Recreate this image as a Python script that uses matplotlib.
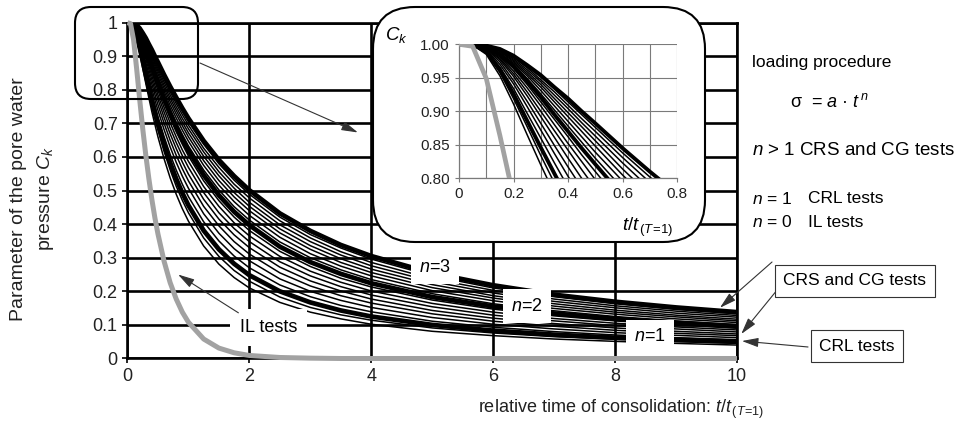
import numpy as np
import matplotlib
matplotlib.use('Agg')
import matplotlib.pyplot as plt
from matplotlib.patches import FancyBboxPatch

plt.rcParams['font.family'] = ['Liberation Sans', 'DejaVu Sans']
plt.rcParams['mathtext.fontset'] = 'custom'
plt.rcParams['mathtext.rm'] = 'Liberation Sans'
plt.rcParams['mathtext.it'] = 'Liberation Sans:italic'
plt.rcParams['mathtext.bf'] = 'Liberation Sans:bold'

# relative time of consolidation t/t(T=1)
t_rel = [0, 0.05, 0.1, 0.15, 0.2, 0.25, 0.3, 0.35, 0.4, 0.45, 0.5, 0.6, 0.7, 0.8, 0.9,
         1.0, 1.25, 1.5, 1.75, 2, 2.5, 3, 3.5, 4, 5, 6, 7, 8, 9, 10]

# pore pressure parameter C_k, IL test (n = 0)
ck_il = [1, .997, .949, .864, .772, .685, .607, .537, .474, .419, .371, .290, .226, .177, .138,
         .108, .058, .031, .017, .009, .003, .001, 0, 0, 0, 0, 0, 0, 0, 0]

# C_k for loading sigma = a*t^n
ck_n080 = [1, .999, .985, .953, .911, .865, .820, .777, .735, .697, .660, .595, .538, .489, .446,
           .409, .335, .281, .241, .210, .167, .138, .118, .102, .081, .068, .058, .051, .045, .040]
ck_n090 = [1, .999, .987, .958, .919, .877, .834, .793, .753, .716, .681, .617, .562, .513, .471,
           .434, .359, .304, .262, .230, .183, .152, .130, .114, .091, .076, .065, .057, .050, .045]
ck_n100 = [1, 1, .989, .962, .926, .886, .846, .807, .769, .733, .699, .638, .583, .535, .493,
           .456, .381, .325, .282, .248, .200, .167, .143, .125, .100, .083, .071, .062, .056, .050]
ck_n113 = [1, 1, .990, .966, .934, .897, .860, .823, .787, .753, .720, .661, .608, .561, .519,
           .482, .407, .350, .305, .270, .219, .184, .158, .139, .111, .093, .080, .070, .062, .056]
ck_n125 = [1, 1, .992, .970, .941, .907, .872, .837, .803, .770, .739, .682, .630, .584, .543,
           .507, .431, .373, .327, .291, .237, .200, .173, .152, .122, .102, .088, .077, .069, .062]
ck_n138 = [1, 1, .993, .974, .946, .915, .882, .849, .817, .786, .756, .701, .650, .605, .565,
           .529, .453, .395, .348, .311, .255, .216, .187, .165, .133, .111, .096, .084, .075, .068]
ck_n150 = [1, 1, .994, .977, .952, .923, .892, .861, .830, .800, .772, .718, .669, .625, .585,
           .549, .474, .415, .368, .330, .272, .231, .201, .177, .143, .120, .104, .091, .081, .073]
ck_n163 = [1, 1, .994, .979, .956, .929, .900, .871, .842, .813, .785, .734, .686, .643, .604,
           .569, .494, .434, .387, .348, .288, .246, .214, .189, .154, .129, .112, .098, .088, .079]
ck_n175 = [1, 1, .995, .981, .960, .935, .908, .880, .852, .825, .798, .748, .702, .660, .621,
           .587, .512, .453, .404, .365, .304, .260, .227, .201, .164, .138, .119, .105, .094, .085]
ck_n188 = [1, 1, .996, .983, .964, .940, .914, .888, .862, .835, .810, .761, .716, .675, .638,
           .603, .529, .470, .421, .381, .319, .274, .239, .213, .174, .147, .127, .112, .100, .090]
ck_n200 = [1, 1, .996, .985, .967, .945, .921, .895, .870, .845, .821, .774, .730, .690, .653,
           .619, .546, .486, .437, .397, .333, .287, .252, .224, .183, .155, .134, .118, .106, .096]
ck_n213 = [1, 1, .997, .986, .970, .949, .926, .902, .878, .854, .830, .785, .743, .703, .667,
           .633, .561, .502, .452, .412, .347, .300, .264, .235, .193, .163, .142, .125, .112, .101]
ck_n225 = [1, 1, .997, .987, .972, .953, .931, .908, .885, .862, .839, .796, .754, .716, .680,
           .647, .575, .516, .467, .426, .361, .312, .275, .246, .202, .172, .149, .132, .118, .107]
ck_n238 = [1, 1, .997, .989, .974, .956, .936, .914, .892, .870, .848, .805, .765, .728, .693,
           .660, .589, .530, .481, .440, .374, .325, .286, .256, .211, .180, .156, .138, .124, .112]
ck_n250 = [1, 1, .998, .990, .976, .959, .940, .919, .898, .877, .856, .814, .775, .739, .704,
           .672, .602, .544, .494, .453, .386, .336, .297, .266, .220, .187, .163, .144, .129, .117]
ck_n263 = [1, 1, .998, .991, .978, .962, .944, .924, .904, .883, .863, .823, .785, .749, .715,
           .684, .615, .556, .507, .465, .398, .348, .308, .276, .229, .195, .170, .151, .135, .123]
ck_n275 = [1, 1, .998, .991, .980, .965, .947, .929, .909, .889, .870, .831, .794, .759, .726,
           .695, .626, .569, .519, .478, .410, .359, .318, .286, .237, .203, .177, .157, .141, .128]
ck_n288 = [1, 1, .998, .992, .981, .967, .951, .933, .914, .895, .876, .838, .802, .768, .736,
           .705, .638, .580, .531, .489, .421, .369, .329, .296, .246, .210, .184, .163, .146, .133]
ck_n300 = [1, 1, .998, .993, .983, .969, .954, .936, .919, .900, .882, .845, .810, .777, .745,
           .715, .648, .591, .543, .501, .432, .380, .338, .305, .254, .218, .190, .169, .152, .138]

thin_curves = [ck_n080, ck_n090, ck_n113, ck_n125, ck_n138, ck_n150, ck_n163, ck_n175, ck_n188,
               ck_n213, ck_n225, ck_n238, ck_n250, ck_n263, ck_n275, ck_n288]
thick_curves = [ck_n100, ck_n200, ck_n300]

x_ticks = [0, 2, 4, 6, 8, 10]
y_ticks = [0, 0.1, 0.2, 0.3, 0.4, 0.5, 0.6, 0.7, 0.8, 0.9, 1.0]
y_ticklabels = ['0', '0.1', '0.2', '0.3', '0.4', '0.5', '0.6', '0.7', '0.8', '0.9', '1']
ins_x_ticks = [0, 0.2, 0.4, 0.6, 0.8]
ins_x_ticklabels = ['0', '0.2', '0.4', '0.6', '0.8']
ins_y_ticks = [0.80, 0.85, 0.90, 0.95, 1.00]
ins_y_ticklabels = ['0.80', '0.85', '0.90', '0.95', '1.00']

IL_COLOR = '#a2a2a2'

fig = plt.figure(figsize=(9.7, 4.23), dpi=100)
ax = fig.add_axes([0.1314, 0.1525, 0.6284, 0.7940])

# main plot
for c in thin_curves:
    ax.plot(t_rel, c, color='black', lw=1.1, zorder=3)
for c in thick_curves:
    ax.plot(t_rel, c, color='black', lw=3.4, zorder=3)
# IL curve runs along the bottom spine, keep it on top
ax.plot(t_rel, ck_il, color=IL_COLOR, lw=3.6, zorder=10, clip_on=False,
        solid_capstyle='butt')

ax.set_xlim(0, 10)
ax.set_ylim(0, 1)
ax.set_xticks(x_ticks)
ax.set_yticks(y_ticks)
ax.set_yticklabels(y_ticklabels)
ax.grid(True, color='black', lw=1.9)
ax.set_axisbelow(True)
for s in ax.spines.values():
    s.set_linewidth(1.9)
    s.set_zorder(1)
ax.tick_params(axis='both', labelsize=13, length=3.5, width=1.2, colors='black',
               labelcolor='#222222')

# curve labels on white patches
lab_box = dict(boxstyle='square,pad=0.45', fc='white', ec='none')
ax.text(5.05, 0.27, '$n$=3', fontsize=13, ha='center', va='center', bbox=lab_box, zorder=6)
ax.text(6.55, 0.156, '$n$=2', fontsize=13, ha='center', va='center', bbox=lab_box, zorder=6)
ax.text(8.57, 0.064, '$n$=1', fontsize=13, ha='center', va='center', bbox=lab_box, zorder=6)
ax.text(2.32, 0.091, 'IL tests', fontsize=13, ha='center', va='center',
        bbox=dict(boxstyle='square,pad=0.55', fc='white', ec='none'), zorder=6)

arrow = dict(arrowstyle='-|>,head_length=1.0,head_width=0.28', color='#333333', lw=0.8,
             shrinkA=0, shrinkB=0)
ax.annotate('', xy=(0.83, 0.25), xytext=(1.82, 0.136), arrowprops=arrow, zorder=6)

# rounded frame around the zoomed corner and its pointer
fig.add_artist(FancyBboxPatch((0.75, 3.24), 1.23, 0.92, boxstyle='round,pad=0,rounding_size=0.16',
                              transform=fig.dpi_scale_trans, fc='none', ec='black', lw=1.5,
                              zorder=7))
ax.annotate('', xy=(3.78, 0.673), xytext=(0.2062, 0.851), textcoords='figure fraction',
            arrowprops=arrow, zorder=7)

# inset frame
fig.add_artist(FancyBboxPatch((3.73, 1.81), 3.32, 2.35, boxstyle='round,pad=0,rounding_size=0.42',
                              transform=fig.dpi_scale_trans, fc='white', ec='black', lw=1.5,
                              zorder=8))

ins = fig.add_axes([0.4732, 0.5785, 0.2248, 0.3168], zorder=9)
ins.patch.set_alpha(0)
for c in thin_curves:
    ins.plot(t_rel, c, color='black', lw=1.1, zorder=3)
for c in thick_curves:
    ins.plot(t_rel, c, color='black', lw=2.8, zorder=3)
ins.plot(t_rel, ck_il, color=IL_COLOR, lw=3.4, zorder=4)
ins.set_xlim(0, 0.8)
ins.set_ylim(0.8, 1.0)
ins.set_xticks(ins_x_ticks)
ins.set_xticklabels(ins_x_ticklabels)
ins.set_yticks(ins_y_ticks)
ins.set_yticklabels(ins_y_ticklabels)
ins.set_xticks(np.arange(0, 0.81, 0.1), minor=True)
ins.grid(True, which='both', color='#7a7a7a', lw=0.8)
ins.set_axisbelow(True)
for k in ['top', 'right']:
    ins.spines[k].set_visible(False)
for k in ['left', 'bottom']:
    ins.spines[k].set_color('#7a7a7a')
    ins.spines[k].set_linewidth(0.9)
ins.tick_params(axis='both', labelsize=11, length=3, width=0.8, colors='#7a7a7a',
                labelcolor='#222222')
ins.tick_params(axis='x', which='minor', length=0)
fig.text(0.409, 0.918, '$C_k$', fontsize=13.5, ha='center', va='center', zorder=10)
fig.text(0.668, 0.462, r'$t/t_{\,(T\!=\!1)}$', fontsize=13.5, ha='center', va='center', zorder=10)

# axis titles
fig.text(0.034, 0.53, 'Parameter of the pore water\npressure $C_k$', rotation=90, fontsize=14,
         ha='center', va='center', multialignment='center', linespacing=1.5, color='#222222')
fig.text(0.640, 0.031, r'relative time of consolidation: $t/t_{\,(T\!=\!1)}$', fontsize=13,
         ha='center', va='center', color='#222222')

# loading description
fig.text(0.775, 0.853, 'loading procedure', fontsize=12.5, va='center')
fig.text(0.8144, 0.759, r'σ  = $a$ · $t^{\,n}$', fontsize=13, va='center')
fig.text(0.775, 0.645, '$n$ > 1 CRS and CG tests', fontsize=13.5, va='center')
fig.text(0.775, 0.530, '$n$ = 1', fontsize=12.5, va='center')
fig.text(0.833, 0.530, 'CRL tests', fontsize=12.5, va='center')
fig.text(0.775, 0.475, '$n$ = 0', fontsize=12.5, va='center')
fig.text(0.833, 0.475, 'IL tests', fontsize=12.5, va='center')

box = dict(boxstyle='square,pad=0.5', fc='white', ec='#333333', lw=0.8)
fig.text(0.8814, 0.3357, 'CRS and CG tests', fontsize=12.5, ha='center', va='center', bbox=box)
fig.text(0.8835, 0.182, 'CRL tests', fontsize=12.5, ha='center', va='center', bbox=box)

ax.annotate('', xy=(9.72, 0.151), xytext=(0.7959, 0.3806), textcoords='figure fraction',
            arrowprops=arrow, annotation_clip=False, zorder=7)
ax.annotate('', xy=(10.07, 0.073), xytext=(0.801, 0.314), textcoords='figure fraction',
            arrowprops=arrow, annotation_clip=False, zorder=7)
ax.annotate('', xy=(10.08, 0.052), xytext=(0.833, 0.1797), textcoords='figure fraction',
            arrowprops=arrow, annotation_clip=False, zorder=7)

fig.savefig('out.png', dpi=100)
